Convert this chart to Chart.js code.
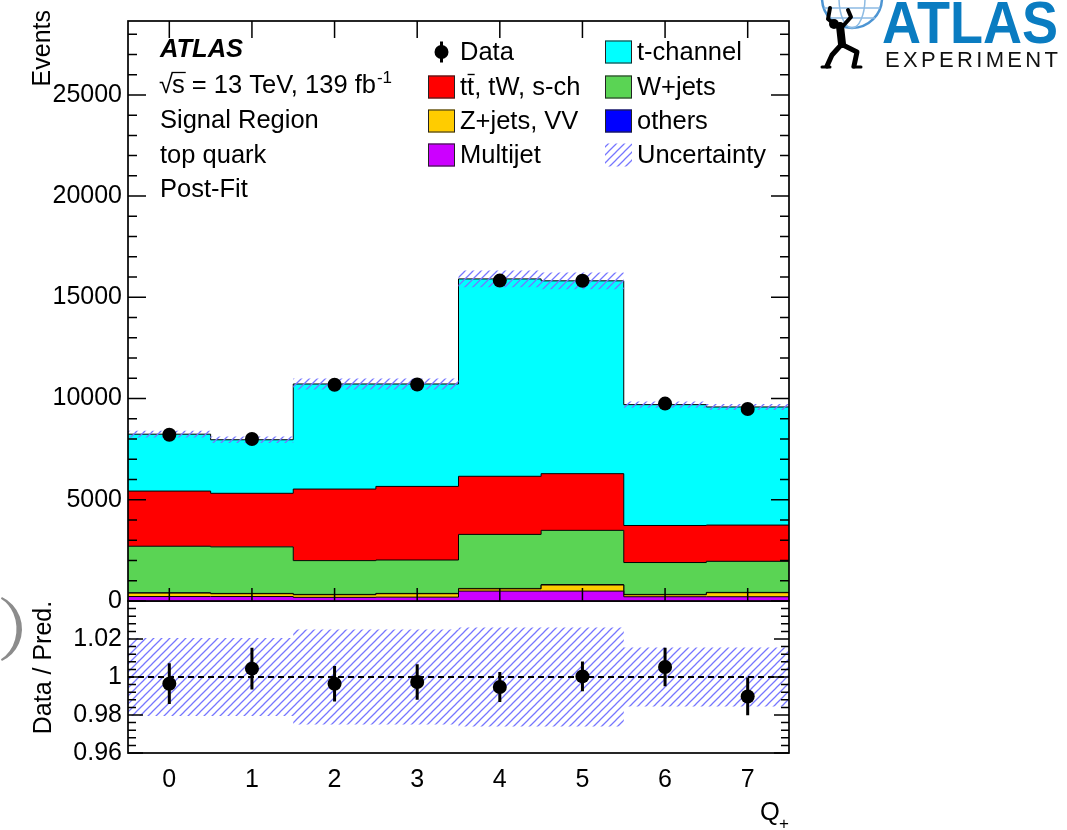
<!DOCTYPE html>
<html>
<head>
<meta charset="utf-8">
<script src="https://cdn.jsdelivr.net/npm/chart.js@4.4.1/dist/chart.umd.min.js"></script>
<style>
  html, body { margin: 0; padding: 0; background: #fff; }
  #wrap { position: relative; width: 1067px; height: 830px; overflow: hidden; }
  #wrap canvas { position: absolute; left: 0; top: 0; }
</style>
</head>
<body>
<div id="wrap">
  <canvas id="ratio" width="1067" height="830"></canvas>
  <canvas id="main" width="1067" height="830"></canvas>
</div>
<script>
// ---- Q+ distribution, signal region, top quark, post-fit ----
const bins = [0, 1, 2, 3, 4, 5, 6, 7];

const dataEvents = [8211, 8000, 10682, 10692, 15826, 15820, 9751, 9487];

// background / signal components, stacked from the bottom up
const multijet = [220, 220, 180, 190, 490, 490, 210, 210];
const zjetsVV  = [170, 140, 130, 170, 110, 300, 100, 200];
const others   = [15, 15, 15, 15, 20, 20, 15, 15];
const wjets    = [2300, 2300, 1670, 1650, 2670, 2680, 1575, 1535];
const ttbar    = [2725, 2645, 3535, 3635, 2870, 2800, 1830, 1790];
const tchannel = [2810, 2645, 5190, 5060, 9750, 9525, 5970, 5835];

// relative total uncertainty of the prediction, per bin
const relUnc = [0.0205, 0.0205, 0.025, 0.025, 0.026, 0.026, 0.0155, 0.0155];
// statistical error of data / prediction, per bin
const ratioErr = [0.0107, 0.011, 0.0094, 0.0093, 0.0079, 0.0078, 0.0101, 0.0099];

const yTicksMain  = [0, 5000, 10000, 15000, 20000, 25000];
const yTicksRatio = [0.96, 0.98, 1, 1.02];

const FONT = "'Liberation Sans', Arial, Helvetica, sans-serif";
Chart.defaults.font.family = FONT;
Chart.defaults.color = '#000';

const components = [
  { label: 'Multijet',     vals: multijet, color: '#cc00ff' },
  { label: 'Z+jets, VV',   vals: zjetsVV,  color: '#ffcc00' },
  { label: 'others',       vals: others,   color: '#0000ff' },
  { label: 'W+jets',       vals: wjets,    color: '#5ad454' },
  { label: 'tt, tW, s-ch', vals: ttbar,    color: '#ff0000' },
  { label: 't-channel',    vals: tchannel, color: '#00ffff' }
];

// cumulative sums for the stacked histogram
const cumulative = [];
{
  let acc = bins.map(() => 0);
  components.forEach(c => {
    acc = acc.map((s, i) => s + c.vals[i]);
    cumulative.push(acc.slice());
  });
}
const predTotal = cumulative[cumulative.length - 1];
const ratio = dataEvents.map((d, i) => d / predTotal[i]);
const dataErr = ratioErr.map((e, i) => e * predTotal[i]);

// histogram outline points at bin edges
function steps(vals) {
  const pts = vals.map((v, i) => ({ x: bins[i] - 0.5, y: v }));
  pts.push({ x: bins[bins.length - 1] + 0.5, y: vals[vals.length - 1] });
  return pts;
}
function errorSegments(vals, errs) {
  const pts = [];
  vals.forEach((v, i) => {
    pts.push({ x: bins[i], y: v - errs[i] });
    pts.push({ x: bins[i], y: v + errs[i] });
    pts.push({ x: bins[i], y: null });
  });
  return pts;
}

// diagonal hatch used for the uncertainty band
function makeHatch() {
  const c = document.createElement('canvas');
  c.width = 8; c.height = 8;
  const g = c.getContext('2d');
  g.strokeStyle = 'rgb(118,118,255)';
  g.lineWidth = 1.25;
  g.beginPath();
  g.moveTo(-1, 9); g.lineTo(9, -1);
  g.moveTo(-2, 2); g.lineTo(2, -2);
  g.moveTo(6, 10); g.lineTo(10, 6);
  g.stroke();
  return document.getElementById('main').getContext('2d').createPattern(c, 'repeat');
}
const hatch = makeHatch();

const stepLine = { type: 'line', stepped: 'before', pointRadius: 0, borderWidth: 1, borderColor: '#000', tension: 0 };

const mainDatasets = components.map((c, i) => Object.assign({}, stepLine, {
  label: c.label,
  data: steps(cumulative[i]),
  backgroundColor: c.color,
  fill: i === 0 ? 'origin' : '-1',
  order: 3 + i
}));
mainDatasets.push(Object.assign({}, stepLine, {
  label: 'bandLow', data: steps(predTotal.map((t, i) => t * (1 - relUnc[i]))),
  borderWidth: 0, borderColor: 'rgba(0,0,0,0)', fill: false, order: 2
}));
mainDatasets.push(Object.assign({}, stepLine, {
  label: 'Uncertainty', data: steps(predTotal.map((t, i) => t * (1 + relUnc[i]))),
  borderWidth: 0, borderColor: 'rgba(0,0,0,0)', backgroundColor: hatch, fill: '-1', order: 2
}));
mainDatasets.push({
  type: 'line', label: 'dataErr', data: errorSegments(dataEvents, dataErr),
  borderColor: '#000', borderWidth: 3, pointRadius: 0, spanGaps: false, fill: false, order: 1
});
mainDatasets.push({
  type: 'line', label: 'Data', data: dataEvents.map((v, i) => ({ x: bins[i], y: v })),
  showLine: false, pointRadius: 7, pointBackgroundColor: '#000', pointBorderWidth: 0, order: 0
});

function drawTicksY(ctx, a, scale, from, to, step, majorEvery, majorLen, minorLen) {
  ctx.beginPath();
  const n = Math.round((to - from) / step);
  for (let k = 0; k <= n; k++) {
    const v = from + k * step;
    const len = (k % majorEvery === 0) ? majorLen : minorLen;
    const py = scale.getPixelForValue(v);
    ctx.moveTo(a.left, py); ctx.lineTo(a.left + len, py);
    ctx.moveTo(a.right, py); ctx.lineTo(a.right - len, py);
  }
  ctx.stroke();
}

function drawLegendBox(ctx, x, y, color) {
  ctx.fillStyle = color;
  ctx.fillRect(x, y, 27, 23);
  ctx.strokeStyle = '#222';
  ctx.lineWidth = 1;
  ctx.strokeRect(x + 0.5, y + 0.5, 26, 22);
}

function drawLogo(ctx) {
  ctx.save();
  // globe
  ctx.strokeStyle = '#4d95d3';
  ctx.lineWidth = 2.5;
  ctx.beginPath(); ctx.arc(852, -2, 30, 0, Math.PI * 2); ctx.stroke();
  ctx.strokeStyle = '#8dbbe3';
  ctx.lineWidth = 1.5;
  ctx.beginPath(); ctx.ellipse(852, -2, 13, 30, 0, 0, Math.PI * 2); ctx.stroke();
  ctx.beginPath(); ctx.moveTo(824, 8); ctx.lineTo(880, 8); ctx.moveTo(829, 18); ctx.lineTo(875, 18); ctx.stroke();
  // figure carrying the globe
  ctx.strokeStyle = '#000'; ctx.fillStyle = '#000';
  ctx.lineCap = 'round'; ctx.lineJoin = 'round';
  ctx.beginPath(); ctx.arc(834, 24, 5, 0, Math.PI * 2); ctx.fill();
  ctx.lineWidth = 8;
  ctx.beginPath(); ctx.moveTo(840, 26); ctx.lineTo(842, 44); ctx.stroke();
  ctx.lineWidth = 4;
  ctx.beginPath(); ctx.moveTo(838, 27); ctx.lineTo(828, 19); ctx.lineTo(830, 8); ctx.stroke();
  ctx.beginPath(); ctx.moveTo(843, 26); ctx.lineTo(851, 17); ctx.lineTo(848, 10); ctx.stroke();
  ctx.lineWidth = 5;
  ctx.beginPath(); ctx.moveTo(841, 45); ctx.lineTo(832, 55); ctx.lineTo(827, 66); ctx.stroke();
  ctx.beginPath(); ctx.moveTo(843, 45); ctx.lineTo(857, 52); ctx.lineTo(854, 66); ctx.stroke();
  ctx.lineWidth = 3;
  ctx.beginPath(); ctx.moveTo(822, 67); ctx.lineTo(830, 67); ctx.moveTo(853, 67); ctx.lineTo(861, 67); ctx.stroke();
  // wordmark
  ctx.fillStyle = '#0a7cc1';
  ctx.font = 'bold 60px ' + FONT;
  const w = ctx.measureText('ATLAS').width;
  ctx.translate(882, 43);
  ctx.scale(176 / w, 1);
  ctx.textBaseline = 'alphabetic';
  ctx.fillText('ATLAS', 0, 0);
  ctx.restore();

  ctx.save();
  ctx.fillStyle = '#111';
  ctx.font = '22px ' + FONT;
  const letters = 'EXPERIMENT'.split('');
  const widths = letters.map(l => ctx.measureText(l).width);
  const total = widths.reduce((s, v) => s + v, 0);
  const gap = (173 - total) / (letters.length - 1);
  let px = 885;
  letters.forEach((l, i) => { ctx.fillText(l, px, 67); px += widths[i] + gap; });
  ctx.restore();
}

const mainDecor = {
  id: 'mainDecor',
  afterDraw(chart) {
    const { ctx, chartArea: a, scales: { x, y } } = chart;
    ctx.save();
    ctx.strokeStyle = '#000';
    ctx.lineWidth = 1.5;
    drawTicksY(ctx, a, y, 0, 28000, 1000, 5, 18, 9);
    ctx.beginPath();
    bins.forEach(b => {
      const px = x.getPixelForValue(b);
      ctx.moveTo(px, a.top); ctx.lineTo(px, a.top + 17);
      ctx.moveTo(px, a.bottom); ctx.lineTo(px, a.bottom - 13);
    });
    ctx.stroke();
    ctx.lineWidth = 1.7;
    ctx.strokeRect(a.left, a.top, a.right - a.left, a.bottom - a.top);

    // y-axis title
    ctx.fillStyle = '#000';
    ctx.font = '25px ' + FONT;
    ctx.save();
    ctx.translate(50, 10);
    ctx.rotate(-Math.PI / 2);
    ctx.textAlign = 'right';
    ctx.fillText('Events', 0, 0);
    ctx.restore();

    // labels in the top-left corner
    const tx = 160;
    ctx.font = 'italic bold 25.5px ' + FONT;
    ctx.fillText('ATLAS', tx, 57);
    ctx.font = '25.5px ' + FONT;
    const root = '\u221A';
    const wr = ctx.measureText(root).width;
    const ws = ctx.measureText('s').width;
    ctx.fillText(root, tx - 1, 93);
    ctx.fillText('s', tx + wr - 2, 93);
    ctx.lineWidth = 1.3;
    ctx.beginPath(); ctx.moveTo(tx + wr - 2.5, 72.5); ctx.lineTo(tx + wr + ws - 1, 72.5); ctx.stroke();
    const rest = ' = 13 TeV, 139 fb';
    ctx.fillText(rest, tx + wr + ws - 2, 93);
    const wrest = ctx.measureText(rest).width;
    ctx.font = '17px ' + FONT;
    ctx.fillText('-1', tx + wr + ws - 1 + wrest, 83);
    ctx.font = '25.5px ' + FONT;
    ctx.fillText('Signal Region', tx, 127.5);
    ctx.fillText('top quark', tx, 162.5);
    ctx.fillText('Post-Fit', tx, 197);

    // legend
    const rows = [52, 87, 121, 155];
    const c1 = 428, c2 = 605;
    ctx.beginPath(); ctx.arc(c1 + 13.5, rows[0], 7, 0, Math.PI * 2); ctx.fill();
    ctx.lineWidth = 3;
    ctx.beginPath(); ctx.moveTo(c1 + 13.5, rows[0] - 10.5); ctx.lineTo(c1 + 13.5, rows[0] + 10.5); ctx.stroke();
    const byLabel = {};
    components.forEach(c => { byLabel[c.label] = c; });
    const col1 = ['Data', 'tt, tW, s-ch', 'Z+jets, VV', 'Multijet'];
    const col2 = ['t-channel', 'W+jets', 'others', 'Uncertainty'];
    ctx.font = '25.5px ' + FONT;
    col1.forEach((lab, r) => {
      if (byLabel[lab]) drawLegendBox(ctx, c1, rows[r] - 11.5, byLabel[lab].color);
      ctx.fillStyle = '#000';
      ctx.fillText(lab, c1 + 32, rows[r] + 7.5);
      if (lab === 'tt, tW, s-ch') {
        const w1 = ctx.measureText('t').width;
        ctx.lineWidth = 1.4;
        ctx.strokeStyle = '#000';
        ctx.beginPath();
        ctx.moveTo(c1 + 32 + w1 + 0.5, rows[r] - 12.5);
        ctx.lineTo(c1 + 32 + 2 * w1 + 0.5, rows[r] - 12.5);
        ctx.stroke();
      }
    });
    col2.forEach((lab, r) => {
      if (byLabel[lab]) drawLegendBox(ctx, c2, rows[r] - 11.5, byLabel[lab].color);
      else { ctx.fillStyle = hatch; ctx.fillRect(c2, rows[r] - 11.5, 27, 23); }
      ctx.fillStyle = '#000';
      ctx.fillText(lab, c2 + 32, rows[r] + 7.5);
    });

    // grey crescent at the left edge
    ctx.fillStyle = '#8c8c8c';
    ctx.beginPath();
    ctx.ellipse(-12, 629, 34, 35, 0, -1.15, 1.15, false);
    ctx.ellipse(-12, 629, 28.5, 34, 0, 1.1, -1.1, true);
    ctx.closePath();
    ctx.fill();

    drawLogo(ctx);
    ctx.restore();
  }
};

new Chart(document.getElementById('main'), {
  type: 'line',
  data: { datasets: mainDatasets },
  options: {
    responsive: false, animation: false, events: [],
    layout: { padding: { left: 0, top: 12, right: 278, bottom: 229 } },
    plugins: { legend: { display: false }, tooltip: { enabled: false } },
    scales: {
      x: { type: 'linear', min: -0.5, max: 7.5, display: false },
      y: {
        type: 'linear', min: 0, max: 28650,
        afterBuildTicks: s => { s.ticks = yTicksMain.map(v => ({ value: v })); },
        afterFit: s => { s.width = 128; },
        grid: { display: false, drawTicks: false },
        border: { display: false },
        ticks: { padding: 6, font: { size: 25 }, color: '#000', callback: v => String(v) }
      }
    }
  },
  plugins: [mainDecor]
});

// ---- ratio panel ----
const ratioDatasets = [
  Object.assign({}, stepLine, {
    label: 'bandLow', data: steps(relUnc.map(u => 1 - u)),
    borderWidth: 0, borderColor: 'rgba(0,0,0,0)', fill: false, order: 3
  }),
  Object.assign({}, stepLine, {
    label: 'Uncertainty', data: steps(relUnc.map(u => 1 + u)),
    borderWidth: 0, borderColor: 'rgba(0,0,0,0)', backgroundColor: hatch, fill: '-1', order: 3
  }),
  {
    type: 'line', label: 'unity', data: [{ x: -0.5, y: 1 }, { x: 7.5, y: 1 }],
    borderColor: '#000', borderWidth: 2, borderDash: [6, 4], pointRadius: 0, fill: false, order: 2
  },
  {
    type: 'line', label: 'ratioErr', data: errorSegments(ratio, ratioErr),
    borderColor: '#000', borderWidth: 3, pointRadius: 0, spanGaps: false, fill: false, order: 1
  },
  {
    type: 'line', label: 'Data / Pred.', data: ratio.map((v, i) => ({ x: bins[i], y: v })),
    showLine: false, pointRadius: 7, pointBackgroundColor: '#000', pointBorderWidth: 0, order: 0
  }
];

const ratioDecor = {
  id: 'ratioDecor',
  afterDraw(chart) {
    const { ctx, chartArea: a, scales: { y } } = chart;
    ctx.save();
    ctx.strokeStyle = '#000';
    ctx.lineWidth = 1.5;
    drawTicksY(ctx, a, y, 0.96, 1.04, 0.004, 5, 15, 8);
    ctx.lineWidth = 1.7;
    ctx.strokeRect(a.left, a.top, a.right - a.left, a.bottom - a.top);
    ctx.fillStyle = '#000';
    ctx.font = '25px ' + FONT;
    ctx.save();
    ctx.translate(51, 667.5);
    ctx.rotate(-Math.PI / 2);
    ctx.textAlign = 'center';
    ctx.fillText('Data / Pred.', 0, 0);
    ctx.restore();
    ctx.font = '25.5px ' + FONT;
    ctx.fillText('Q', 760, 820);
    ctx.font = '17px ' + FONT;
    ctx.fillText('+', 779, 829);
    ctx.restore();
  }
};

new Chart(document.getElementById('ratio'), {
  type: 'line',
  data: { datasets: ratioDatasets },
  options: {
    responsive: false, animation: false, events: [],
    layout: { padding: { left: 0, top: 601, right: 278, bottom: 0 } },
    plugins: { legend: { display: false }, tooltip: { enabled: false } },
    scales: {
      x: {
        type: 'linear', min: -0.5, max: 7.5,
        afterBuildTicks: s => { s.ticks = bins.map(v => ({ value: v })); },
        afterFit: s => { s.height = 77; },
        grid: { display: false, drawTicks: false },
        border: { display: false },
        ticks: { padding: 12, font: { size: 25 }, color: '#000', autoSkip: false, maxRotation: 0, callback: v => String(v) }
      },
      y: {
        type: 'linear', min: 0.96, max: 1.04,
        afterBuildTicks: s => { s.ticks = yTicksRatio.map(v => ({ value: v })); },
        afterFit: s => { s.width = 128; },
        grid: { display: false, drawTicks: false },
        border: { display: false },
        ticks: { padding: 6, font: { size: 25 }, color: '#000', callback: v => String(v) }
      }
    }
  },
  plugins: [ratioDecor]
});
</script>
</body>
</html>
